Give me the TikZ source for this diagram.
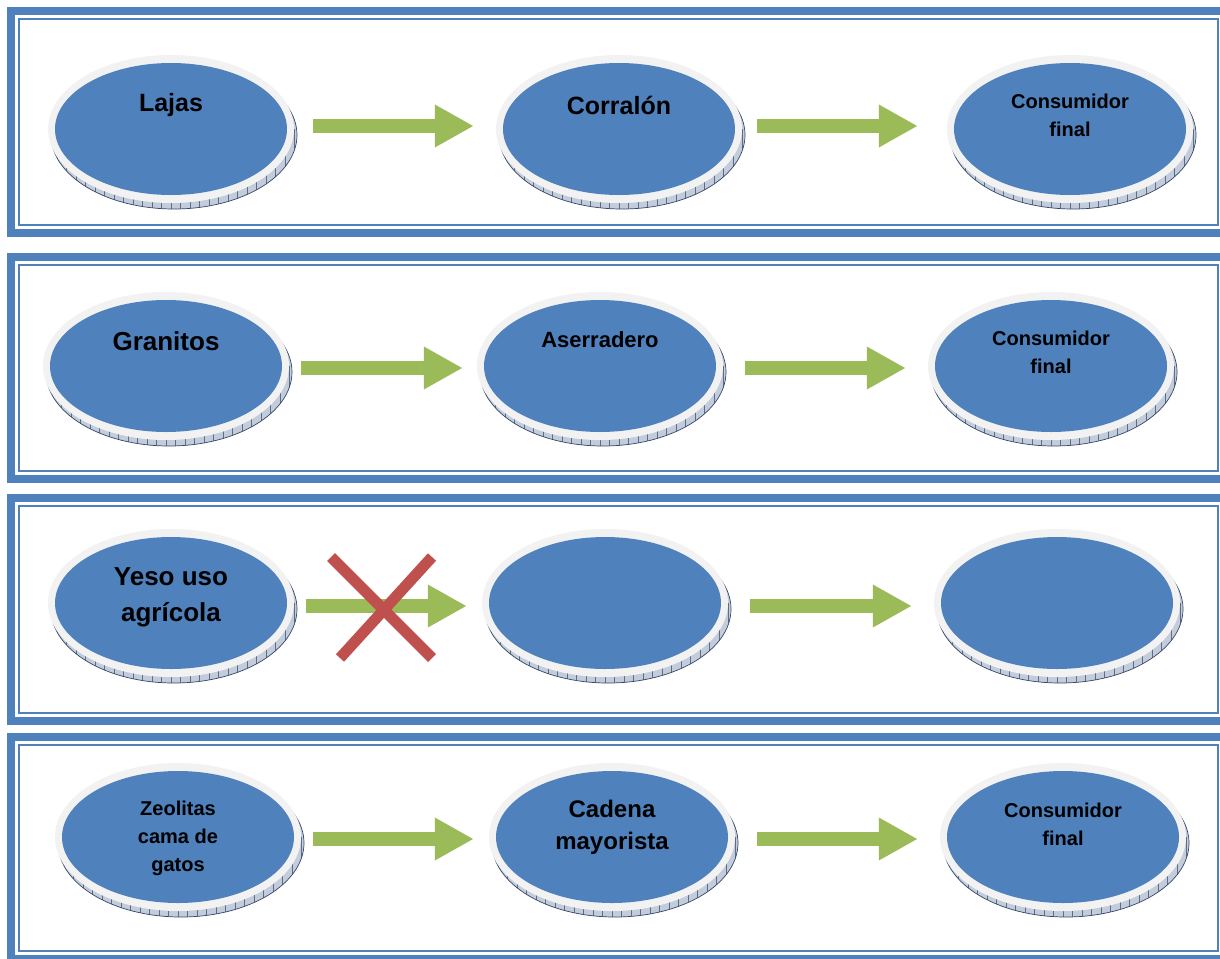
\documentclass[tikz,border=0pt]{standalone}
\usepackage{fontspec}
\setmainfont{Liberation Sans}
\usetikzlibrary{arrows.meta,shapes.geometric}
\definecolor{frameblue}{HTML}{4F81BD}
\definecolor{diskblue}{HTML}{4F81BD}
\definecolor{ringgray}{HTML}{F2F2F2}
\definecolor{arrowgreen}{HTML}{9BBB59}
\definecolor{crossred}{HTML}{C0504D}
\definecolor{sidefill}{HTML}{C3CCDA}
\definecolor{sideline}{HTML}{34476A}
\tikzset{
  ringnode/.style={ellipse, minimum width=246pt, minimum height=148pt, inner sep=0pt, fill=ringgray},
  disknode/.style={ellipse, minimum width=232pt, minimum height=132pt, inner sep=0pt, fill=diskblue},
  lbl/.style={align=center, text=black, inner sep=0pt, font=\bfseries},
  greenarrow/.style={draw=arrowgreen, line width=14pt, -{Triangle[length=39pt,width=40pt]}},
  thickframe/.style={draw=frameblue, line width=8pt},
  thinframe/.style={draw=frameblue, line width=1.8pt},
  crossbar/.style={draw=crossred, line width=11pt}
}
% name, x, y
\newcommand\mydisk[3]{%
  \begin{scope}
    \clip (#2+3,#3+6) ellipse [x radius=123, y radius=74];
    \fill[sidefill] (#2+3,#3+6) ellipse [x radius=123, y radius=74];
    \foreach \k in {-13,...,13} \draw[sideline!80, line width=0.5pt] (#2+\k*9.5, #3) -- ++(0,90);
  \end{scope}
  \draw[sideline, line width=0.7pt] (#2+3,#3+6) ellipse [x radius=123, y radius=74];
  \node[ringnode] (#1-ring) at (#2,#3) {};
  \node[disknode] (#1) at (#2,#3) {};
}
% top, bottom
\newcommand\mypanel[2]{%
  \draw[thickframe] (11,#1+4) rectangle (1226,#2-4);
  \draw[thinframe] (19,#1+12) rectangle (1218,#2-12);
}
\begin{document}
\begin{tikzpicture}[x=1pt, y=-1pt]
\useasboundingbox (0,0) rectangle (1220,958);
\fill[white] (0,0) rectangle (1220,958);

% panels
\mypanel{7}{237}
\mypanel{253}{483}
\mypanel{494}{725}
\mypanel{733}{963}

% ---------- panel 1 ----------
\mydisk{lajas}{171}{129}
\mydisk{corralon}{619}{129}
\mydisk{cons1}{1070}{129}
\node[lbl, font=\bfseries\fontsize{25}{30}\selectfont] (t-lajas) at (171,105) {Lajas};
\node[lbl, font=\bfseries\fontsize{25}{30}\selectfont] (t-corralon) at (619,105) {Corralón};
\node[lbl, font=\bfseries\fontsize{20}{28}\selectfont] (t-cons1) at (1070,115) {Consumidor\\final};
\draw[greenarrow, shorten <=19pt, shorten >=22pt] ([yshift=3pt]lajas-ring.east) -- ([yshift=3pt]corralon-ring.west);
\draw[greenarrow, shorten <=15pt, shorten >=29pt] ([yshift=3pt]corralon-ring.east) -- ([yshift=3pt]cons1-ring.west);

% ---------- panel 2 ----------
\mydisk{granitos}{166}{366}
\mydisk{aserradero}{600}{366}
\mydisk{cons2}{1051}{366}
\node[lbl, font=\bfseries\fontsize{26}{31}\selectfont] (t-granitos) at (166,341) {Granitos};
\node[lbl, font=\bfseries\fontsize{22}{27}\selectfont] (t-aserradero) at (600,340) {Aserradero};
\node[lbl, font=\bfseries\fontsize{20}{28}\selectfont] (t-cons2) at (1051,352) {Consumidor\\final};
\draw[greenarrow, shorten <=12pt, shorten >=14pt] ([yshift=-2pt]granitos-ring.east) -- ([yshift=-2pt]aserradero-ring.west);
\draw[greenarrow, shorten <=22pt, shorten >=22pt] ([yshift=-2pt]aserradero-ring.east) -- ([yshift=-2pt]cons2-ring.west);

% ---------- panel 3 ----------
\mydisk{yeso}{171}{603}
\mydisk{blankA}{605}{603}
\mydisk{blankB}{1057}{603}
\node[lbl, font=\bfseries\fontsize{26}{36}\selectfont] (t-yeso) at (171,597) {Yeso uso\\agrícola};
\draw[greenarrow, shorten <=12pt, shorten >=15pt] ([yshift=-3pt]yeso-ring.east) -- ([yshift=-3pt]blankA-ring.west);
\draw[greenarrow, shorten <=22pt, shorten >=22pt] ([yshift=-3pt]blankA-ring.east) -- ([yshift=-3pt]blankB-ring.west);
\coordinate (x1a) at (331,557);
\coordinate (x1b) at (432,658);
\coordinate (x2a) at (432,557);
\coordinate (x2b) at (340,658);
\draw[crossbar] (x1a) -- (x1b);
\draw[crossbar] (x2a) -- (x2b);

% ---------- panel 4 ----------
\mydisk{zeolitas}{178}{837}
\mydisk{cadena}{612}{837}
\mydisk{cons4}{1063}{837}
\node[lbl, font=\bfseries\fontsize{20}{28}\selectfont] (t-zeolitas) at (178,838) {Zeolitas\\cama de\\gatos};
\node[lbl, font=\bfseries\fontsize{24}{32}\selectfont] (t-cadena) at (612,827) {Cadena\\mayorista};
\node[lbl, font=\bfseries\fontsize{20}{28}\selectfont] (t-cons4) at (1063,824) {Consumidor\\final};
\draw[greenarrow, shorten <=12pt, shorten >=15pt] ([yshift=-2pt]zeolitas-ring.east) -- ([yshift=-2pt]cadena-ring.west);
\draw[greenarrow, shorten <=22pt, shorten >=22pt] ([yshift=-2pt]cadena-ring.east) -- ([yshift=-2pt]cons4-ring.west);
\end{tikzpicture}
\end{document}
